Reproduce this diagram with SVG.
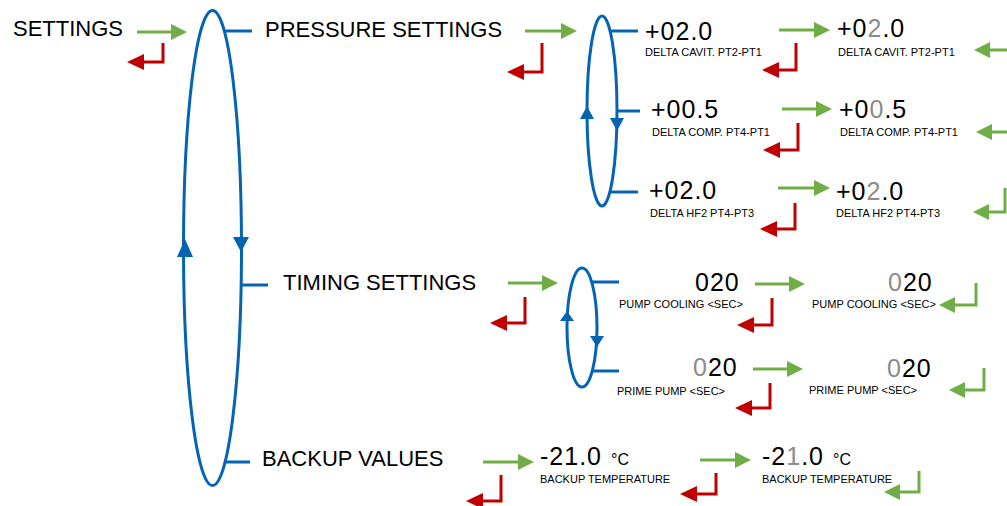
<svg xmlns="http://www.w3.org/2000/svg" width="1007" height="506" viewBox="0 0 1007 506">
<style>
text{font-family:"Liberation Sans",Arial,sans-serif;fill:#000}
.h{font-size:22px}
.v{font-size:25px;letter-spacing:1px}
.l{font-size:11px}
.u{font-size:16px}
.g{fill:#8c8c8c}
.blue{fill:none;stroke:#0563b4;stroke-width:3}
.ga{fill:none;stroke:#70ad47;stroke-width:3;marker-end:url(#mg)}
.ra{fill:none;stroke:#c00000;stroke-width:3;marker-end:url(#mr)}
.bt{fill:#0563b4}
</style>
<defs>
<marker id="mg" markerUnits="userSpaceOnUse" markerWidth="16" markerHeight="16" refX="6" refY="8" orient="auto"><path d="M0,0 L16,8 L0,16 z" fill="#70ad47"/></marker>
<marker id="mr" markerUnits="userSpaceOnUse" markerWidth="17" markerHeight="16" refX="6" refY="8" orient="auto"><path d="M0,0 L17,8 L0,16 z" fill="#c00000"/></marker>
</defs>

<g id="loops">
<ellipse class="blue" cx="212.5" cy="248" rx="29" ry="237.5"/>
<path class="bt" d="M185,239 L193,257 L177,257 z"/>
<path class="bt" d="M241,252 L233,237 L249,237 z"/>
<line class="blue" x1="225" y1="31" x2="252" y2="31"/>
<line class="blue" x1="241" y1="285" x2="268" y2="285"/>
<line class="blue" x1="225" y1="462" x2="250" y2="462"/>

<ellipse class="blue" cx="602" cy="111" rx="15" ry="95"/>
<path class="bt" d="M587,106 L594,119 L580,119 z"/>
<path class="bt" d="M617,131 L610,118 L624,118 z"/>
<line class="blue" x1="610" y1="31" x2="638" y2="31"/>
<line class="blue" x1="616" y1="111" x2="640" y2="111"/>
<line class="blue" x1="610" y1="192" x2="638" y2="192"/>

<ellipse class="blue" cx="582" cy="327.5" rx="15" ry="59.5"/>
<path class="bt" d="M567,311 L574,321 L560,321 z"/>
<path class="bt" d="M597,347 L590,336 L604,336 z"/>
<line class="blue" x1="591" y1="282" x2="619" y2="282"/>
<line class="blue" x1="591" y1="371" x2="619" y2="371"/>
</g>

<g id="connectors">
<line class="ga" x1="137" y1="32" x2="177" y2="32"/>
<line class="ga" x1="525" y1="31" x2="567" y2="31"/>
<line class="ga" x1="779" y1="30" x2="820" y2="30"/>
<line class="ga" x1="782" y1="109" x2="822" y2="109"/>
<line class="ga" x1="778" y1="188" x2="820" y2="188"/>
<line class="ga" x1="508" y1="283" x2="548" y2="283"/>
<line class="ga" x1="755" y1="284" x2="795" y2="284"/>
<line class="ga" x1="753" y1="369" x2="793" y2="369"/>
<line class="ga" x1="483" y1="462" x2="524" y2="462"/>
<line class="ga" x1="700" y1="460" x2="741" y2="460"/>

<polyline class="ga" points="1012,50 984,50"/>
<polyline class="ga" points="1012,132 986,132"/>
<polyline class="ga" points="1005,188 1005,212 983,212"/>
<polyline class="ga" points="976,283 976,305 949,305"/>
<polyline class="ga" points="984,368 984,390 959,390"/>
<polyline class="ga" points="919,471 919,492 894,492"/>

<polyline class="ra" points="163,43 163,62 138,62"/>
<polyline class="ra" points="542,43 542,72 518,72"/>
<polyline class="ra" points="796,43 796,70 773,70"/>
<polyline class="ra" points="798,123 798,150 774,150"/>
<polyline class="ra" points="795,203 795,229 771,229"/>
<polyline class="ra" points="525,297 525,323 501,323"/>
<polyline class="ra" points="772,298 772,325 748,325"/>
<polyline class="ra" points="770,383 770,408 746,408"/>
<polyline class="ra" points="501,475 501,501 477,501"/>
<polyline class="ra" points="716,473 716,494 691,494"/>
</g>

<g id="settings"><text class="h" x="13" y="36">SETTINGS</text></g>
<g id="pressure-settings"><text class="h" x="265" y="37">PRESSURE SETTINGS</text></g>
<g id="timing-settings"><text class="h" x="283" y="290">TIMING SETTINGS</text></g>
<g id="backup-values"><text class="h" x="262" y="466">BACKUP VALUES</text></g>

<g id="cavit-1"><text class="v" x="645" y="40">+02.0</text><text class="l" x="645" y="56">DELTA CAVIT. PT2-PT1</text></g>
<g id="cavit-2"><text class="v" x="837" y="37">+0<tspan class="g">2</tspan>.0</text><text class="l" x="838" y="56">DELTA CAVIT. PT2-PT1</text></g>
<g id="comp-1"><text class="v" x="651" y="118">+00.5</text><text class="l" x="652" y="136">DELTA COMP. PT4-PT1</text></g>
<g id="comp-2"><text class="v" x="839" y="118">+0<tspan class="g">0</tspan>.5</text><text class="l" x="840" y="136">DELTA COMP. PT4-PT1</text></g>
<g id="hf2-1"><text class="v" x="649" y="199">+02.0</text><text class="l" x="650" y="217">DELTA HF2 PT4-PT3</text></g>
<g id="hf2-2"><text class="v" x="836" y="200">+0<tspan class="g">2</tspan>.0</text><text class="l" x="836" y="217">DELTA HF2 PT4-PT3</text></g>

<g id="cooling-1"><text class="v" x="695" y="291">020</text><text class="l" x="619" y="308">PUMP COOLING &lt;SEC&gt;</text></g>
<g id="cooling-2"><text class="v" x="888" y="291"><tspan class="g">0</tspan>20</text><text class="l" x="812" y="308">PUMP COOLING &lt;SEC&gt;</text></g>
<g id="prime-1"><text class="v" x="693" y="376"><tspan class="g">0</tspan>20</text><text class="l" x="617" y="395">PRIME PUMP &lt;SEC&gt;</text></g>
<g id="prime-2"><text class="v" x="887" y="377"><tspan class="g">0</tspan>20</text><text class="l" x="809" y="394">PRIME PUMP &lt;SEC&gt;</text></g>

<g id="temp-1"><text class="v" x="540" y="465">-21.0</text><text class="u" x="611" y="465">°C</text><text class="l" x="540" y="483">BACKUP TEMPERATURE</text></g>
<g id="temp-2"><text class="v" x="762" y="465">-2<tspan class="g">1</tspan>.0</text><text class="u" x="833" y="465">°C</text><text class="l" x="762" y="483">BACKUP TEMPERATURE</text></g>
</svg>
